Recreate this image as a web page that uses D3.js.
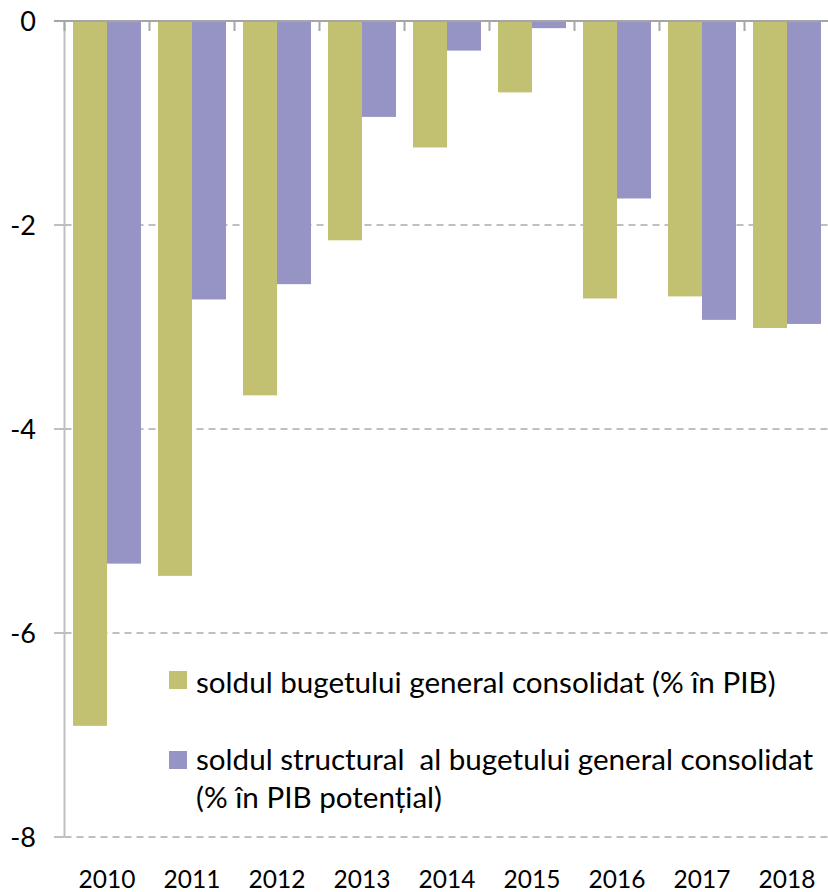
<!DOCTYPE html>
<html>
<head>
<meta charset="utf-8">
<script src="https://cdn.jsdelivr.net/npm/d3@7/dist/d3.min.js"></script>
<style>
  html, body { margin: 0; padding: 0; background: #fff; }
  svg { display: block; }
  text { font-family: Lato, "Open Sans", sans-serif; fill: #000; }
</style>
</head>
<body>
<svg id="chart" width="828" height="892"></svg>
<script>
const years = ["2010","2011","2012","2013","2014","2015","2016","2017","2018"];
const soldBuget = [-6.91, -5.44, -3.67, -2.15, -1.24, -0.70, -2.72, -2.70, -3.01];
const soldStructural = [-5.32, -2.73, -2.58, -0.94, -0.29, -0.07, -1.74, -2.93, -2.97];
const yTicks = [0, -2, -4, -6, -8];
const seriesNames = [
  ["soldul bugetului general consolidat (% în PIB)"],
  ["soldul structural  al bugetului general consolidat", "(% în PIB potențial)"]
];
const colors = ["#c2c071", "#9694c4"];

(function () {
const svg = d3.select("#chart");
const mLeft = 64.5, mRight = 829.5, mTop = 21, mBottom = 837;

const x = d3.scaleBand().domain(years).range([mLeft, mRight]).paddingInner(0.2).paddingOuter(0.1);
const xSub = d3.scaleBand().domain([0, 1]).range([0, x.bandwidth()]);
const y = d3.scaleLinear().domain([-8, 0]).range([mBottom, mTop]);

// gridlines (dashed) except zero
svg.append("g").selectAll("line").data(yTicks.filter(d => d !== 0)).join("line")
  .attr("x1", mLeft).attr("x2", 828)
  .attr("y1", d => y(d)).attr("y2", d => y(d))
  .attr("stroke", "#bfbfbf").attr("stroke-width", 2)
  .attr("stroke-dasharray", "7,5");

// y axis left ticks
svg.append("g").selectAll("line").data(yTicks).join("line")
  .attr("x1", 54).attr("x2", mLeft)
  .attr("y1", d => y(d)).attr("y2", d => y(d))
  .attr("stroke", "#bfbfbf").attr("stroke-width", 2);

// y axis line
svg.append("line").attr("x1", mLeft).attr("x2", mLeft).attr("y1", mTop).attr("y2", mBottom)
  .attr("stroke", "#bfbfbf").attr("stroke-width", 2);

// bars
const series = [soldBuget, soldStructural];
series.forEach((vals, si) => {
  svg.append("g").selectAll("rect").data(vals).join("rect")
    .attr("x", (d, i) => x(years[i]) + xSub(si))
    .attr("width", xSub.bandwidth())
    .attr("y", d => y(0))
    .attr("height", d => y(d) - y(0))
    .attr("fill", colors[si]);
});

// top category axis (at zero)
svg.append("line").attr("x1", 54).attr("x2", 828).attr("y1", y(0)).attr("y2", y(0))
  .attr("stroke", "#a6a6a6").attr("stroke-width", 2);
svg.append("g").selectAll("line").data(years).join("line")
  .attr("x1", (d, i) => mLeft + i * x.step()).attr("x2", (d, i) => mLeft + i * x.step())
  .attr("y1", y(0)).attr("y2", y(0) + 10)
  .attr("stroke", "#a6a6a6").attr("stroke-width", 2);

// y labels
svg.append("g").selectAll("text").data(yTicks).join("text")
  .attr("x", 36).attr("y", d => y(d)).attr("dy", "0.36em")
  .attr("text-anchor", "end").attr("font-size", 27)
  .text(d => d === 0 ? "0" : String(d));

// x labels
svg.append("g").selectAll("text").data(years).join("text")
  .attr("x", d => x(d) + x.bandwidth() / 2).attr("y", 888)
  .attr("text-anchor", "middle").attr("font-size", 24.5)
  .text(d => d);

// legend
const legendY = [[693], [770, 808]];
const swY = [671, 751];
seriesNames.forEach((lines, si) => {
  svg.append("rect").attr("x", 169).attr("y", swY[si]).attr("width", 18).attr("height", 18)
    .attr("fill", colors[si]);
  lines.forEach((t, li) => {
    svg.append("text").attr("x", 196).attr("y", legendY[si][li])
      .attr("font-size", 29.6).style("white-space", "pre").text(t);
  });
});
})();
</script>
</body>
</html>
